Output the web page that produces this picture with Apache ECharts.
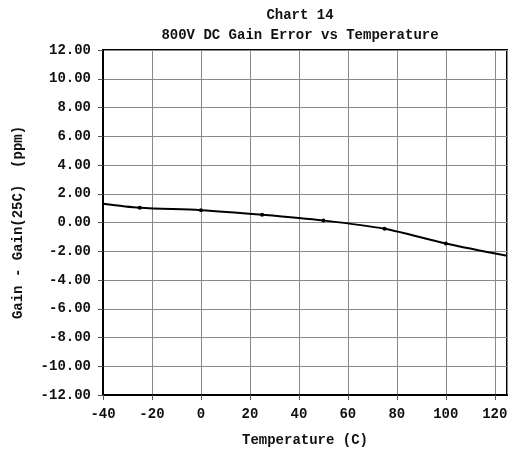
<!DOCTYPE html>
<html>
<head>
<meta charset="utf-8">
<script src="https://cdn.jsdelivr.net/npm/echarts@6/dist/echarts.min.js"></script>
<style>
  html, body { margin: 0; padding: 0; background: #fff; }
  #chart { width: 512px; height: 452px; }
</style>
</head>
<body>
<div id="chart"></div>
<script>
// measured points, -40 and 125 are the line ends (no marker)
const tempC = [-40, -25, 0, 25, 50, 75, 100, 125];
const gainErr = [1.30, 1.02, 0.86, 0.54, 0.14, -0.44, -1.46, -2.32];
const hasMarker = [false, true, true, true, true, true, true, false];

const FONT = "Liberation Mono";
const TXT = {fontFamily: FONT, fontWeight: "bold", fontSize: 14, color: "#111"};

const chart = echarts.init(document.getElementById("chart"));

const points = tempC.map((t, i) => ({
    value: [t, gainErr[i]],
    symbolSize: hasMarker[i] ? 4 : 0
}));

chart.setOption({
    animation: false,
    title: [
        {text: "Chart 14", left: 295, top: 3, textAlign: "center", textStyle: TXT},
        {text: "800V DC Gain Error vs Temperature", left: 295, top: 23, textAlign: "center", textStyle: TXT}
    ],
    grid: {
        left: 103, right: 5, top: 50, bottom: 57,
        show: true, borderColor: "#000", borderWidth: 2
    },
    xAxis: {
        type: "value",
        min: -40, max: 125, interval: 20,
        name: "Temperature (C)",
        nameLocation: "middle",
        nameGap: 38,
        nameTextStyle: TXT,
        axisLine: {onZero: false, lineStyle: {color: "#000", width: 2}},
        axisTick: {show: true, length: 5, lineStyle: {color: "#555"}},
        axisLabel: Object.assign({margin: 12, showMaxLabel: false}, TXT),
        splitLine: {lineStyle: {color: "#888", width: 1}}
    },
    yAxis: {
        type: "value",
        min: -12, max: 12, interval: 2,
        name: "Gain - Gain(25C)  (ppm)",
        nameLocation: "middle",
        nameGap: 78,
        nameTextStyle: TXT,
        axisLine: {onZero: false, lineStyle: {color: "#000", width: 2}},
        axisTick: {show: true, length: 5, lineStyle: {color: "#555"}},
        axisLabel: Object.assign({margin: 12, formatter: v => v.toFixed(2)}, TXT),
        splitLine: {lineStyle: {color: "#888", width: 1}}
    },
    series: [{
        type: "line",
        data: points,
        smooth: 0.3,
        symbol: "circle",
        itemStyle: {color: "#000"},
        lineStyle: {color: "#000", width: 2}
    }]
});
</script>
</body>
</html>
